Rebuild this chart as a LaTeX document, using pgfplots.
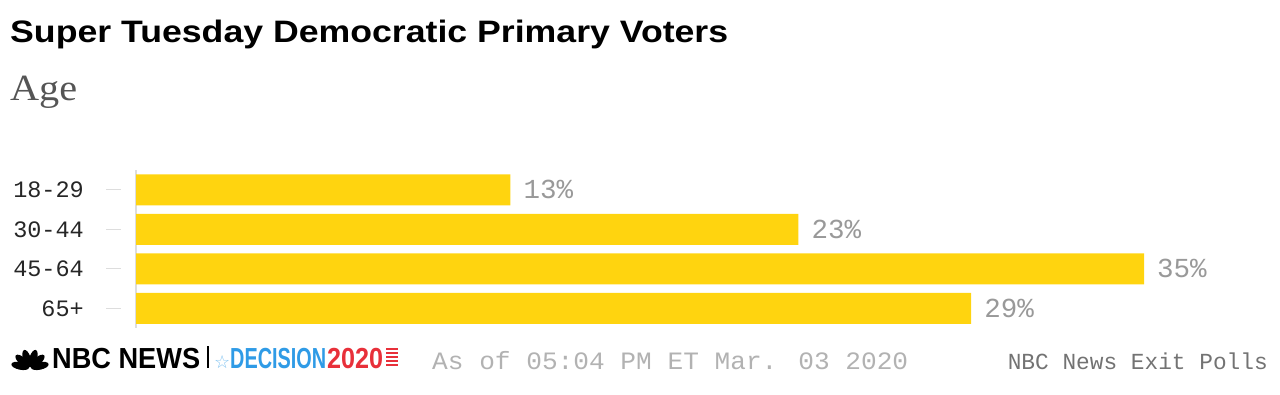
\documentclass[border=0pt]{standalone}
\usepackage{pgfplots}
\pgfplotsset{compat=1.18}
\usepackage{fontspec}
\usepackage{graphicx}
\setmainfont{Liberation Sans}
\newfontfamily\monofont{Liberation Mono}
\newfontfamily\seriffont{Liberation Serif}
\newfontfamily\boldsans{Liberation Sans}
\newfontfamily\symfont{DejaVu Sans}
\definecolor{baryellow}{HTML}{FFD40F}
\definecolor{valgray}{HTML}{999999}
\definecolor{axgray}{HTML}{DDDDDD}
\definecolor{agegray}{HTML}{555555}
\definecolor{decblue}{HTML}{2F9BE6}
\definecolor{decred}{HTML}{E8303A}
\pgfplotstableread{
y val
0 13
1 23
2 35
3 29
}\agedata
\begin{document}
\begin{tikzpicture}[x=1bp,y=-1bp]
\useasboundingbox (0,0) rectangle (1280,394);
% title
\node[anchor=base west, inner sep=0pt] at (10,42)
  {\resizebox{718bp}{\height}{\boldsans\bfseries\fontsize{31bp}{36bp}\selectfont Super Tuesday Democratic Primary Voters}};
\node[anchor=base west, inner sep=0pt, text=agegray] at (10,100)
  {\resizebox{67bp}{\height}{\seriffont\fontsize{37bp}{42bp}\selectfont Age}};
\begin{axis}[
  at={(136bp,-170bp)}, anchor=north west,
  scale only axis, width=1008bp, height=158bp,
  xbar, bar width=31bp,
  xmin=0, xmax=35, ymin=-0.5, ymax=3.5,
  enlargelimits=false, y dir=reverse,
  axis x line=none,
  axis y line*=left,
  y axis line style={draw=axgray, line width=1.5bp},
  ytick={0,1,2,3},
  yticklabels={18-29,30-44,45-64,65+},
  tick align=outside,
  major tick length=15bp,
  ytick style={draw=axgray, line width=1.2bp, xshift=-15bp},
  yticklabel style={anchor=east, inner sep=0pt, xshift=-37bp,
    font=\monofont\fontsize{23.5bp}{26bp}\selectfont, text=black!85},
  /pgf/number format/assume math mode=true,
  nodes near coords={\pgfmathprintnumber{\pgfplotspointmeta}\%},
  nodes near coords style={anchor=west, inner sep=0pt, xshift=13bp,
    font=\monofont\fontsize{27.5bp}{30bp}\selectfont, text=valgray},
  point meta=explicit,
  clip=false,
]
\addplot[fill=baryellow, draw=none] table[x=val, y=y, meta=val] {\agedata};
\end{axis}
% footer: NBC logo
\foreach \a in {12,42,72,108,138,168} {
  \fill[black] ({30+10*cos(\a)},{368-10*sin(\a)}) ellipse[x radius=9, y radius=3.8, rotate=\a];
}
\node[anchor=base west, inner sep=0pt] at (52,368)
  {\resizebox{148bp}{\height}{\boldsans\bfseries\fontsize{29bp}{34bp}\selectfont NBC NEWS}};
\draw[black, line width=1.5bp] (208,346) -- (208,368);
\node[anchor=base west, inner sep=0pt, text=decblue!60] at (214,368)
  {\symfont\fontsize{18bp}{22bp}\selectfont ☆};
\node[anchor=base west, inner sep=0pt, text=decblue] at (230,368)
  {\resizebox{96bp}{\height}{\boldsans\bfseries\fontsize{29bp}{34bp}\selectfont DECISION}};
\node[anchor=base west, inner sep=0pt, text=decred] at (327,368)
  {\resizebox{56bp}{\height}{\boldsans\bfseries\fontsize{29bp}{34bp}\selectfont 2020}};
\foreach \yy in {349,353,357,361,365} {
  \draw[decred, line width=2bp] (386,\yy) -- (398,\yy);
}
\node[anchor=base west, inner sep=0pt, text=black!30] at (432,369)
  {\resizebox{476bp}{\height}{\monofont\fontsize{25bp}{30bp}\selectfont As of 05:04 PM ET Mar. 03 2020}};
\node[anchor=base east, inner sep=0pt, text=black!55] at (1268,369)
  {\resizebox{260bp}{\height}{\monofont\fontsize{23bp}{28bp}\selectfont NBC News Exit Polls}};
\end{tikzpicture}
\end{document}
